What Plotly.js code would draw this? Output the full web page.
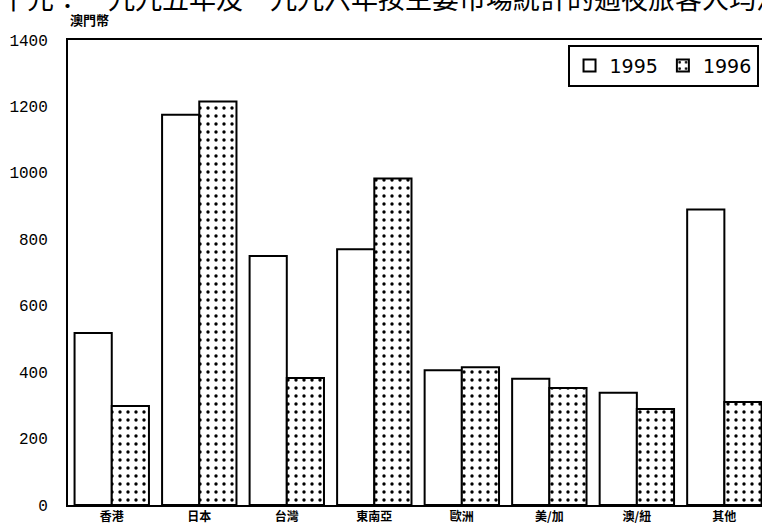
<!DOCTYPE html>
<html>
<head>
<meta charset="utf-8">
<script src="https://cdn.plot.ly/plotly-3.0.1.min.js"></script>
<style>html,body{margin:0;padding:0;background:#fff;overflow:hidden;}</style>
</head>
<body>
<div id="chart" style="width:762px;height:524px;"></div>
<script>
const categories = ["香港", "日本", "台灣", "東南亞", "歐洲", "美/加", "澳/紐", "其他"];
const values1995 = [518, 1175, 750, 770, 406, 380, 338, 890];
const values1996 = [298, 1215, 382, 983, 415, 352, 289, 310];
const seriesNames = ["1995", "1996"];
const yTicks = [0, 200, 400, 600, 800, 1000, 1200, 1400];
const titleText = "千元：一九九五年及一九九六年按主要市場統計的過夜旅客人均消費";
const yTitle = "澳門幣";

const traces = [
  {
    type: "bar", name: seriesNames[0], x: categories, y: values1995,
    marker: { color: "#ffffff", line: { color: "#000", width: 2 } }
  },
  {
    type: "bar", name: seriesNames[1], x: categories, y: values1996,
    marker: {
      color: "#ffffff", line: { color: "#000", width: 2 },
      pattern: { shape: ".", fgcolor: "#000", bgcolor: "#fff", size: 8, solidity: 0.14 }
    }
  }
];

const layout = {
  width: 762, height: 524,
  margin: { l: 68, r: 0, t: 40, b: 19, pad: 0 },
  paper_bgcolor: "#fff", plot_bgcolor: "#fff",
  barmode: "group", bargap: 0.15, bargroupgap: 0,
  showlegend: true,
  title: {
    text: titleText, xref: "container", yref: "container",
    x: 0, xanchor: "left", y: 1, yanchor: "middle",
    font: { family: "Noto Sans CJK TC", size: 27, color: "#000" }
  },
  legend: {
    orientation: "h", x: 0.995, xanchor: "right", y: 0.99, yanchor: "top",
    bgcolor: "#fff", bordercolor: "#000", borderwidth: 2,
    font: { family: "DejaVu Sans", size: 19, color: "#000" },
    traceorder: "normal", itemwidth: 30
  },
  xaxis: {
    type: "category", range: [-0.5, 7.43],
    showline: true, linecolor: "#000", linewidth: 2, mirror: true,
    ticks: "", showgrid: false,
    tickfont: { family: "Noto Sans CJK TC", size: 12, color: "#000", weight: "bold" }
  },
  yaxis: {
    range: [0, 1400], tickvals: yTicks, ticktext: yTicks.map(String),
    showline: true, linecolor: "#000", linewidth: 2,
    ticks: "", showgrid: false, zeroline: false,
    ticklabelstandoff: 15,
    tickfont: { family: "Liberation Mono", size: 16, color: "#000" }
  },
  annotations: [{
    text: yTitle, xref: "paper", yref: "paper", x: 0, y: 1,
    xanchor: "left", yanchor: "bottom", yshift: 9, showarrow: false,
    font: { family: "Noto Sans CJK TC", size: 13, color: "#000", weight: "bold" }
  }]
};

Plotly.newPlot("chart", traces, layout, { displayModeBar: false, staticPlot: true });
</script>
</body>
</html>
